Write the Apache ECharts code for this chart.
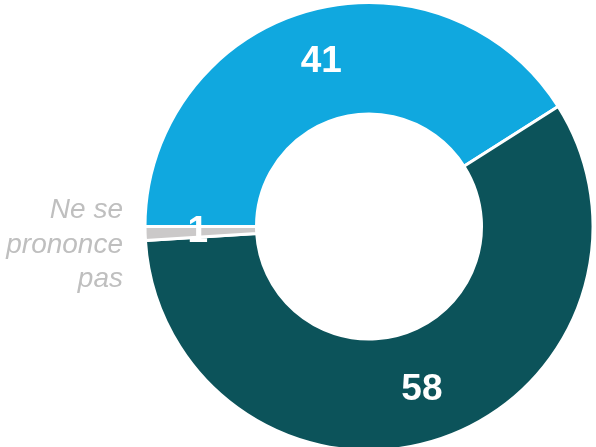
<!DOCTYPE html>
<html>
<head>
<meta charset="utf-8">
<script src="https://cdn.jsdelivr.net/npm/echarts@6/dist/echarts.min.js"></script>
<style>
html,body{margin:0;padding:0;background:#fff;}
#c{width:596px;height:447px;}
</style>
</head>
<body>
<div id="c"></div>
<script>
var categories = ['Oui', 'Non', 'Ne se prononce pas'];
var values = [41, 58, 1];
var colors = ['#10a8df', '#0c535a', '#cbc9c9'];
var outsideLabel = 'Ne se\nprononce\npas';

var chart = echarts.init(document.getElementById('c'));
chart.setOption({
  animation: false,
  series: [{
    type: 'pie',
    center: [369, 226.5],
    radius: [112.5, 224],
    startAngle: 180,
    clockwise: true,
    avoidLabelOverlap: false,
    itemStyle: { borderColor: '#ffffff', borderWidth: 3 },
    label: {
      show: true,
      position: 'inside',
      formatter: '{c}',
      color: '#ffffff',
      fontFamily: 'Liberation Sans',
      fontWeight: 'bold',
      fontSize: 37
    },
    labelLine: { show: false },
    emphasis: { disabled: true },
    data: categories.map(function (n, i) {
      return { name: n, value: values[i], itemStyle: { color: colors[i] } };
    })
  }],
  graphic: [{
    type: 'text',
    x: 123,
    y: 245,
    style: {
      text: outsideLabel,
      align: 'right',
      verticalAlign: 'middle',
      fill: '#bfbfbf',
      font: 'italic 28px "Liberation Sans"',
      lineHeight: 34.5
    }
  }]
});
</script>
</body>
</html>
